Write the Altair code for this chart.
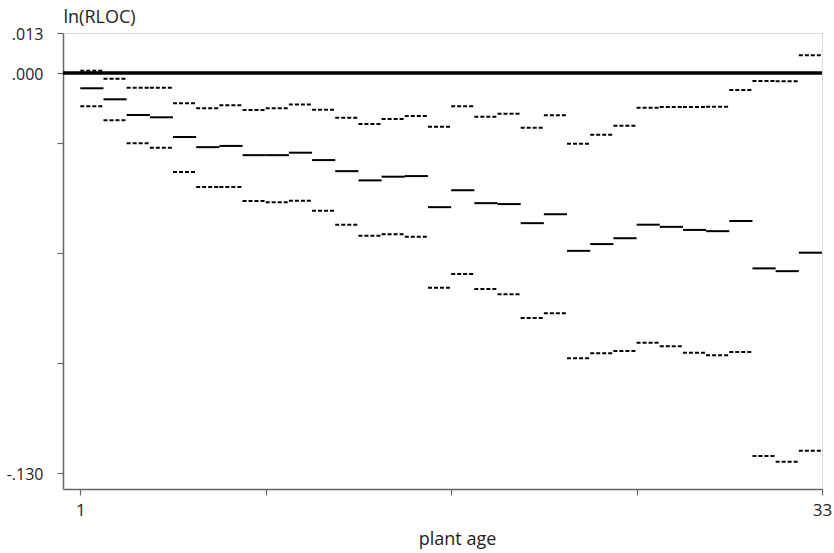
import altair as alt
import pandas as pd

# x positions: each step spans age -> age + 1
age_start = list(range(1, 33))

estimate = [-0.00497, -0.00855, -0.01365, -0.0144, -0.0208, -0.0241, -0.0237, -0.0267,
            -0.0267, -0.0259, -0.0283, -0.0319, -0.0349, -0.0337, -0.0335, -0.0436,
            -0.0381, -0.0423, -0.0426, -0.0488, -0.0459, -0.0578, -0.0556, -0.0537,
            -0.0493, -0.0500, -0.0510, -0.0514, -0.0481, -0.0635, -0.0644, -0.0584]
upper = [0.00075, -0.00185, -0.00478, -0.00478, -0.00985, -0.01147, -0.0105, -0.0120,
         -0.01147, -0.01024, -0.01193, -0.01453, -0.01658, -0.01495, -0.01398, -0.01745,
         -0.01082, -0.0142, -0.01323, -0.01778, -0.01375, -0.02298, -0.02005, -0.01713,
         -0.01128, -0.01105, -0.01105, -0.01095, -0.00553, -0.0026, -0.0027, 0.00575]
lower = [-0.01082, -0.01537, -0.02285, -0.02428, -0.03218, -0.03705, -0.03705, -0.0416,
         -0.04202, -0.0415, -0.04475, -0.0493, -0.05288, -0.05242, -0.0532, -0.06978,
         -0.06533, -0.0702, -0.07192, -0.07963, -0.0781, -0.09272, -0.0911, -0.09035,
         -0.08765, -0.08882, -0.0909, -0.09175, -0.09068, -0.12448, -0.12633, -0.12275]

y_tick_values = [0.013, 0.0, -0.02275, -0.0585, -0.09425, -0.130]
x_tick_values = [1, 9, 17, 25, 33]

FONT = "Open Sans"

df_est = pd.DataFrame({"age": age_start, "age_end": [a + 1 for a in age_start], "value": estimate})
df_ci = pd.concat([
    pd.DataFrame({"age": age_start, "age_end": [a + 1 for a in age_start], "value": upper, "bound": "upper"}),
    pd.DataFrame({"age": age_start, "age_end": [a + 1 for a in age_start], "value": lower, "bound": "lower"}),
])

xscale = alt.Scale(domain=[0.254, 33], nice=False, zero=False)
yscale = alt.Scale(domain=[-0.1352, 0.013], nice=False, zero=False)

x_axis = alt.Axis(
    values=x_tick_values,
    labelExpr="datum.value == 1 ? '1' : (datum.value == 33 ? '33' : '')",
    title="plant age", titleFont=FONT, titleFontSize=18, titleFontWeight="normal",
    titleColor="#222", titleX=394, titleY=55, titleBaseline="alphabetic", titleAlign="center",
    labelFont=FONT, labelFontSize=17, labelColor="#222", labelPadding=7,
    tickSize=6, tickColor="#666", domainColor="#666", domainWidth=1.5, tickWidth=1.2,
    grid=False, labelFlush=False,
)
y_axis = alt.Axis(
    values=y_tick_values,
    labelExpr="abs(datum.value - 0.013) < 1e-6 ? '.013' : (abs(datum.value) < 1e-6 ? '.000' : (abs(datum.value + 0.13) < 1e-6 ? '-.130' : ''))",
    title="ln(RLOC)", titleFont=FONT, titleFontSize=18, titleFontWeight="normal",
    titleColor="#222", titleAngle=0, titleX=0, titleY=-11, titleAlign="left",
    titleBaseline="alphabetic",
    labelFont=FONT, labelFontSize=16, labelColor="#222", labelPadding=14, labelOffset=1,
    tickSize=6, tickColor="#666", domainColor="#666", domainWidth=1.5, tickWidth=1.2,
    grid=False, labelFlush=False,
)

est = alt.Chart(df_est).mark_rule(color="black", strokeWidth=2).encode(
    x=alt.X("age:Q", scale=xscale, axis=x_axis),
    x2="age_end:Q",
    y=alt.Y("value:Q", scale=yscale, axis=y_axis),
)

ci = alt.Chart(df_ci).mark_rule(color="black", strokeWidth=2, strokeDash=[4, 2]).encode(
    x=alt.X("age:Q", scale=xscale),
    x2="age_end:Q",
    y=alt.Y("value:Q", scale=yscale),
    detail="bound:N",
)

zero = alt.Chart(pd.DataFrame({"z": [0.0]})).mark_rule(color="black", strokeWidth=3.5).encode(
    y=alt.Y("z:Q", scale=yscale),
)

chart = alt.layer(zero, ci, est).properties(
    width=759, height=456,
    autosize=alt.AutoSizeParams(type="none"),
    padding={"left": 63, "top": 33, "right": 12, "bottom": 64},
).configure_view(stroke=None).configure(background="white")

chart.save("out.html", embed_options={"renderer": "svg", "actions": False})
